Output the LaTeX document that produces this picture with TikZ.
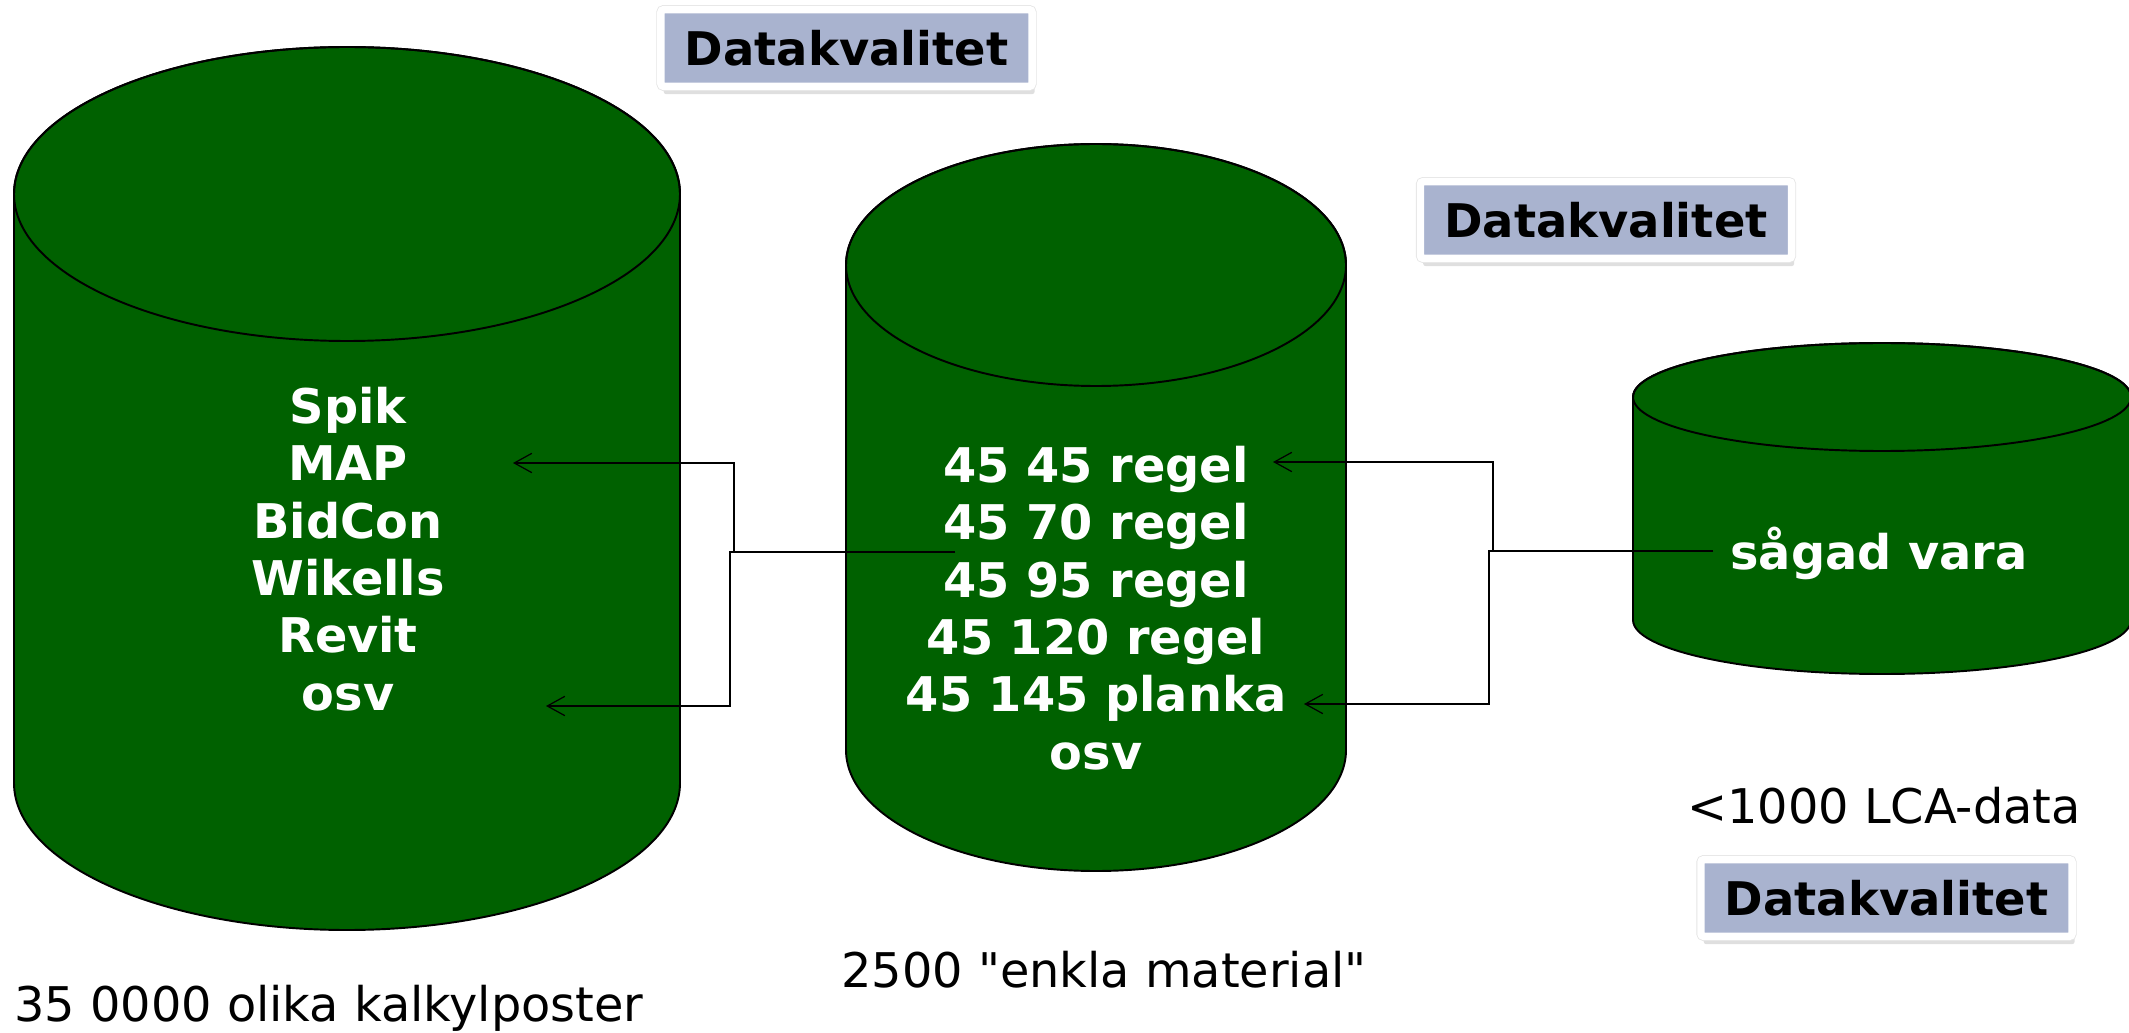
\documentclass[tikz,border=0pt]{standalone}
\usepackage{fontspec}
\setmainfont{DejaVu Sans}[Ligatures=TeXOff]
\usetikzlibrary{arrows.meta,shadows}
\definecolor{dbgreen}{RGB}{0,97,0}
\definecolor{qualblue}{RGB}{169,179,207}

% cylinder: centre x, top y, bottom y, x radius, y radius
\newcommand{\dbcyl}[5]{%
  \draw [black, line width=1.1pt, fill=dbgreen] (#1-#4,#2) -- (#1-#4,#3) arc (180:360:#4 and #5) -- (#1+#4,#2) arc (0:180:#4 and #5) -- cycle;
  \draw [black, line width=1.1pt] (#1,#2) ellipse (#4 and #5);
}

\begin{document}
\begin{tikzpicture}[x=0.02cm, y=0.02cm]
\tikzstyle{every node}+=[inner sep=0pt]
\tikzstyle{dbtext}=[text=white, font=\bfseries\fontsize{27.2}{32.7}\selectfont, align=center]
\tikzstyle{note}=[font=\fontsize{27.2}{32.7}\selectfont]
\tikzstyle{quality}=[fill=qualblue, draw=white, line width=4.25pt, rounded corners=1.5pt, minimum width=211.2pt, minimum height=43.6pt, font=\bfseries\fontsize{26.4}{30}\selectfont, drop shadow={shadow xshift=1.5pt, shadow yshift=-4.5pt, opacity=0.25}, preaction={draw=black!10, line width=5.2pt}]
\tikzstyle{link}=[black, line width=0.7pt, -{Straight Barb[length=10pt,width=11pt]}]
\useasboundingbox (0,0) rectangle (2129,-1033);
% the three databases
\dbcyl{347}{-194}{-783}{333}{147}
\dbcyl{1096}{-265}{-750}{250}{121}
\dbcyl{1882}{-397}{-620}{249}{54}
\node [dbtext] (tools) at (348,-549) {Spik\\MAP\\BidCon\\Wikells\\Revit\\osv};
\node [dbtext] (basic) at (1096,-608) {45 45 regel\\45 70 regel\\45 95 regel\\45 120 regel\\45 145 planka\\osv};
\node [dbtext] (sawn) at (1879,-553) {sågad vara};
% counts
\node [note, anchor=base west] (count1) at (14,-1021) {35 0000 olika kalkylposter};
\node [note, anchor=base] (count2) at (1104,-987) {2500 "enkla material"};
\node [note, anchor=base] (count3) at (1884,-823) {<1000 LCA-data};
% links
\coordinate (basicL) at (955,-552);
\coordinate (mapR) at (513,-463);
\coordinate (osvR) at (546,-706);
\draw [link] (basicL) -- ++(-221,0) |- (mapR);
\draw [link] (basicL) -- ++(-225,0) |- (osvR);
\coordinate (sawnL) at (1713,-551);
\coordinate (reglR) at (1273,-462);
\coordinate (plankR) at (1304,-704);
\draw [link] (sawnL) -- ++(-220,0) |- (reglR);
\draw [link] (sawnL) -- ++(-224,0) |- (plankR);
% quality labels
\node [quality] (qual1) at (846.5,-48) {Datakvalitet};
\node [quality] (qual2) at (1606,-220) {Datakvalitet};
\node [quality] (qual3) at (1886.5,-898) {Datakvalitet};
\end{tikzpicture}
\end{document}
